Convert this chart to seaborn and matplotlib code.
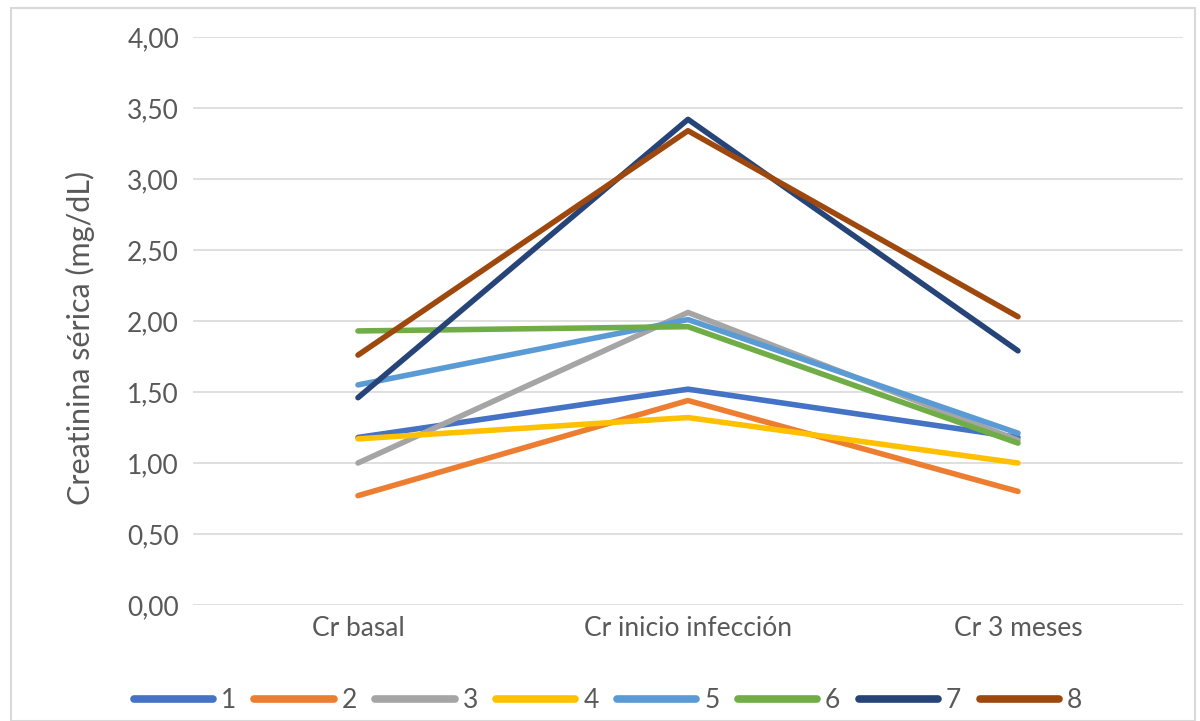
import matplotlib
matplotlib.use("Agg")
import matplotlib.pyplot as plt
import matplotlib.ticker as mticker
from matplotlib.patches import Rectangle
import seaborn as sns
import pandas as pd

categories = ["Cr basal", "Cr inicio infección", "Cr 3 meses"]
series_names = ["1", "2", "3", "4", "5", "6", "7", "8"]
s1 = [1.18, 1.52, 1.18]
s2 = [0.77, 1.44, 0.80]
s3 = [1.00, 2.06, 1.16]
s4 = [1.17, 1.32, 1.00]
s5 = [1.55, 2.01, 1.21]
s6 = [1.93, 1.96, 1.14]
s7 = [1.46, 3.42, 1.79]
s8 = [1.76, 3.34, 2.03]
colors = ["#4472C4", "#ED7D31", "#A5A5A5", "#FFC000",
          "#5B9BD5", "#70AD47", "#264478", "#9E480E"]

rows = []
for name, vals in zip(series_names, [s1, s2, s3, s4, s5, s6, s7, s8]):
    for c, v in zip(categories, vals):
        rows.append({"cat": c, "val": v, "serie": name})
df = pd.DataFrame(rows)

sns.set_theme(style="white")
plt.rcParams["font.family"] = ["Lato", "DejaVu Sans"]

fig = plt.figure(figsize=(12, 7.21), dpi=100)
ax = fig.add_axes([193/1200, 1 - 605/721, (1183-193)/1200, (605-37)/721])

sns.lineplot(data=df, x="cat", y="val", hue="serie", palette=colors,
             sort=False, linewidth=4.0, ax=ax, legend=True,
             solid_capstyle="round", errorbar=None)

ax.set_xlim(-0.5, 2.5)
ax.set_ylim(0, 4.0)
ax.set_yticks([i * 0.5 for i in range(9)])
ax.yaxis.set_major_formatter(mticker.FuncFormatter(lambda v, p: f"{v:.2f}".replace(".", ",")))
ax.grid(axis="y", color="#D9D9D9", linewidth=1.2)
ax.set_axisbelow(True)
for sp in ax.spines.values():
    sp.set_visible(False)
ax.tick_params(axis="y", length=0, labelsize=19, colors="#595959", pad=10)
ax.tick_params(axis="x", length=0, labelsize=19, colors="#595959", pad=8)
ax.set_xlabel("")
ax.set_ylabel("Creatinina sérica (mg/dL)", fontsize=22, color="#595959")
ax.yaxis.set_label_coords((80 - 193) / 990, (605 - 338) / 568)
ax.yaxis.label.set_va("center")

handles, labels = ax.get_legend_handles_labels()
for h in handles:
    h.set_linewidth(5.5)
    h.set_solid_capstyle("round")
ax.legend(handles, labels, loc="center", bbox_to_anchor=(0.419, -(701-605)/(605-37)),
          ncol=8, frameon=False, fontsize=19, labelcolor="#595959",
          handlelength=3.0, handletextpad=0.3, columnspacing=0.7)

fig.patches.append(Rectangle((11/1200, 0), 1 - 16/1200, 1 - 8/721, transform=fig.transFigure,
                             fill=False, edgecolor="#D9D9D9", linewidth=1.5))

fig.savefig("out.png", dpi=100)
